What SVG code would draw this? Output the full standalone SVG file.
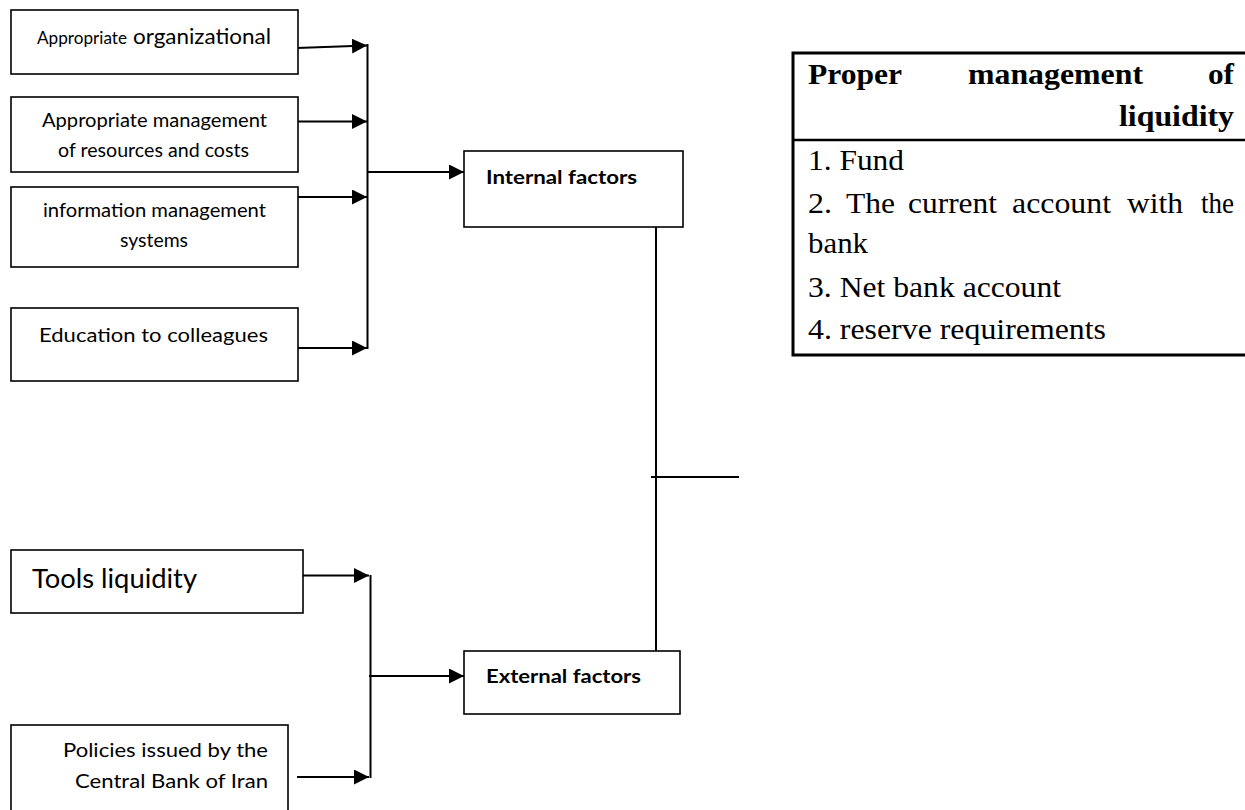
<svg xmlns="http://www.w3.org/2000/svg" width="1245" height="810" viewBox="0 0 1245 810">
<style>
.box{fill:#fff;stroke:#000;stroke-width:1.6}
.t{font-family:Lato,"Open Sans",sans-serif;fill:#000}
.b{font-weight:bold}
.c{fill:none;stroke:#000;stroke-width:2}
.tm{font-family:"Liberation Serif","Times New Roman",serif;font-size:29px;fill:#000}
</style>
<defs>
<marker id="ah" markerWidth="16" markerHeight="15" refX="15" refY="7.5" orient="auto" markerUnits="userSpaceOnUse">
<path d="M0,0 L15,7.5 L0,15 z" fill="#000"/>
</marker>
</defs>
<rect width="1245" height="810" fill="#fff"/>

<g id="connectors">
<line class="c" x1="297" y1="48" x2="367" y2="45.5" marker-end="url(#ah)"/>
<line class="c" x1="298" y1="121.5" x2="367" y2="121.5" marker-end="url(#ah)"/>
<line class="c" x1="298" y1="197" x2="367" y2="197" marker-end="url(#ah)"/>
<line class="c" x1="298" y1="348" x2="367" y2="348" marker-end="url(#ah)"/>
<line class="c" x1="367.5" y1="44" x2="367.5" y2="349"/>
<line class="c" x1="367.5" y1="172" x2="464" y2="172" marker-end="url(#ah)"/>
<line class="c" x1="656" y1="227" x2="656" y2="651"/>
<line class="c" x1="651" y1="477" x2="739" y2="477"/>
<line class="c" x1="297" y1="575.5" x2="369" y2="575.5" marker-end="url(#ah)"/>
<line class="c" x1="297" y1="777" x2="369" y2="777" marker-end="url(#ah)"/>
<line class="c" x1="370.5" y1="575" x2="370.5" y2="778"/>
<line class="c" x1="369" y1="676" x2="464" y2="676" marker-end="url(#ah)"/>
</g>

<g id="node-org">
<rect class="box" x="11" y="10" width="287" height="64"/>
<text class="t" y="44"><tspan x="37" font-size="16.5" textLength="90" lengthAdjust="spacingAndGlyphs">Appropriate</tspan><tspan x="133" font-size="21.5" textLength="138" lengthAdjust="spacingAndGlyphs">organizational</tspan></text>
</g>

<g id="node-resources">
<rect class="box" x="11" y="97" width="287" height="75"/>
<text class="t" font-size="19.5" x="42" y="127" textLength="225" lengthAdjust="spacingAndGlyphs">Appropriate management</text>
<text class="t" font-size="19.5" x="58" y="157" textLength="191" lengthAdjust="spacingAndGlyphs">of resources and costs</text>
</g>

<g id="node-info">
<rect class="box" x="11" y="187" width="287" height="80"/>
<text class="t" font-size="19.5" x="43" y="217" textLength="223" lengthAdjust="spacingAndGlyphs">information management</text>
<text class="t" font-size="19.5" x="120" y="247" textLength="68" lengthAdjust="spacingAndGlyphs">systems</text>
</g>

<g id="node-education">
<rect class="box" x="11" y="308" width="287" height="73"/>
<text class="t" font-size="19.5" x="39" y="342" textLength="229" lengthAdjust="spacingAndGlyphs">Education to colleagues</text>
</g>

<g id="node-internal">
<rect class="box" x="464" y="151" width="219" height="76"/>
<text class="t b" font-size="19" x="486" y="184" textLength="151" lengthAdjust="spacingAndGlyphs">Internal factors</text>
</g>

<g id="node-external">
<rect class="box" x="464" y="651" width="216" height="63"/>
<text class="t b" font-size="19" x="486" y="683" textLength="155" lengthAdjust="spacingAndGlyphs">External factors</text>
</g>

<g id="node-tools">
<rect class="box" x="11" y="550" width="292" height="63"/>
<text class="t" font-size="27.5" x="32" y="588" textLength="165" lengthAdjust="spacingAndGlyphs">Tools liquidity</text>
</g>

<g id="node-policies">
<rect class="box" x="11" y="725" width="277" height="100"/>
<text class="t" font-size="19.5" x="63" y="757" textLength="205" lengthAdjust="spacingAndGlyphs">Policies issued by the</text>
<text class="t" font-size="19.5" x="75" y="788" textLength="193" lengthAdjust="spacingAndGlyphs">Central Bank of Iran</text>
</g>

<g id="node-liquidity">
<rect x="793" y="53" width="470" height="302" fill="#fff" stroke="#000" stroke-width="3"/>
<line x1="793" y1="140" x2="1245" y2="140" stroke="#000" stroke-width="2.5"/>
<text class="tm" font-weight="bold" y="84"><tspan x="808" textLength="94" lengthAdjust="spacingAndGlyphs">Proper</tspan><tspan x="968" textLength="175" lengthAdjust="spacingAndGlyphs">management</tspan><tspan x="1208" textLength="26" lengthAdjust="spacingAndGlyphs">of</tspan></text>
<text class="tm" font-weight="bold" x="1119" y="126" textLength="115" lengthAdjust="spacingAndGlyphs">liquidity</text>
<text class="tm" x="808" y="170" textLength="96" lengthAdjust="spacingAndGlyphs">1. Fund</text>
<text class="tm" y="213"><tspan x="808" textLength="24" lengthAdjust="spacingAndGlyphs">2.</tspan><tspan x="846" textLength="49" lengthAdjust="spacingAndGlyphs">The</tspan><tspan x="908" textLength="89" lengthAdjust="spacingAndGlyphs">current</tspan><tspan x="1012" textLength="99" lengthAdjust="spacingAndGlyphs">account</tspan><tspan x="1127" textLength="56" lengthAdjust="spacingAndGlyphs">with</tspan><tspan x="1201" textLength="33" lengthAdjust="spacingAndGlyphs">the</tspan></text>
<text class="tm" x="808" y="253" textLength="60" lengthAdjust="spacingAndGlyphs">bank</text>
<text class="tm" x="808" y="297" textLength="253" lengthAdjust="spacingAndGlyphs">3. Net bank account</text>
<text class="tm" x="808" y="339" textLength="298" lengthAdjust="spacingAndGlyphs">4. reserve requirements</text>
</g>
</svg>
